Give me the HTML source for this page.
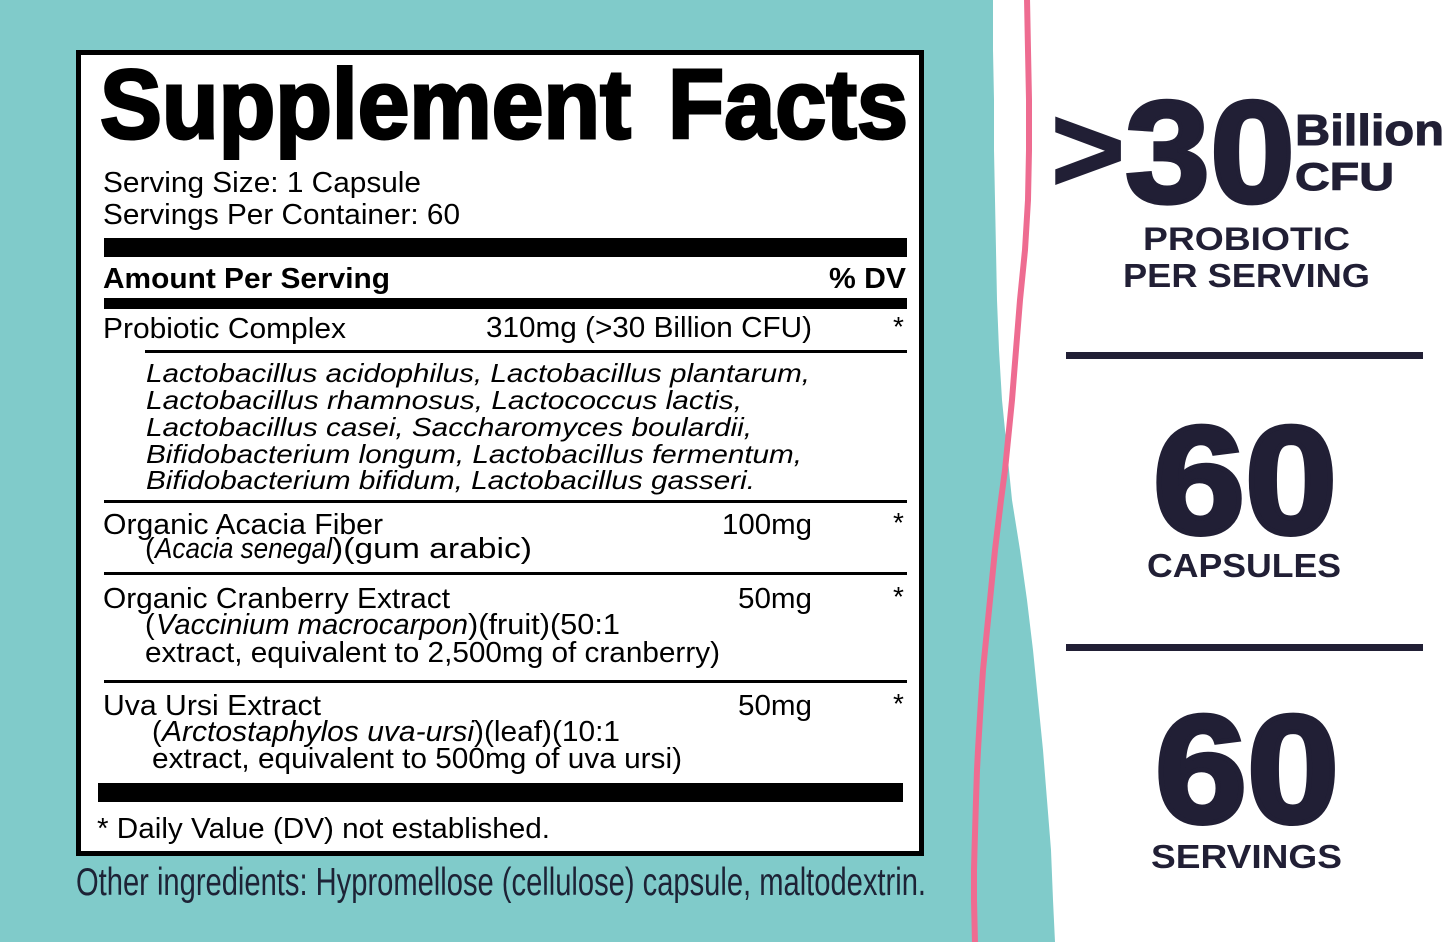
<!DOCTYPE html>
<html><head><meta charset="utf-8"><style>
html,body{margin:0;padding:0;background:#80cbca;}
svg{display:block;}
text{font-family:"Liberation Sans",Arial,sans-serif;}
</style></head><body>
<svg width="1445" height="942" viewBox="0 0 1445 942" xmlns="http://www.w3.org/2000/svg">
<rect x="0" y="0" width="1445" height="942" fill="#80cbca"/>
<polygon fill="#ffffff" points="993,0 993,50 994,100 994,150 995,200 996,250 997,300 999,350 1002,400 1007,450 1012,500 1020,550 1027,600 1033,650 1038,700 1043,750 1047,800 1051,850 1053,900 1055,942 1445,942 1445,0"/>
<polyline fill="none" stroke="#ee6c91" stroke-width="6" stroke-linejoin="round" points="1027,-2 1028,50 1029,100 1029,150 1028,200 1025,250 1020,300 1016,350 1012,400 1007,450 1005,470 1001,500 995,550 993,570 990,600 985,650 983,670 981,700 978,750 977,770 976,800 974.5,850 974,870 974,900 975,944"/>

<rect x="78.5" y="52.5" width="843" height="801" fill="#ffffff" stroke="#000" stroke-width="5"/>

<g fill="#000">
<text x="100" y="138" font-size="98" font-weight="bold" stroke="#000" stroke-width="3" textLength="531" lengthAdjust="spacingAndGlyphs">Supplement</text>
<text x="668" y="138" font-size="98" font-weight="bold" stroke="#000" stroke-width="3" textLength="240" lengthAdjust="spacingAndGlyphs">Facts</text>

<text x="103" y="192" font-size="29" textLength="318" lengthAdjust="spacingAndGlyphs">Serving Size: 1 Capsule</text>
<text x="103" y="224" font-size="29" textLength="357" lengthAdjust="spacingAndGlyphs">Servings Per Container: 60</text>

<rect x="104" y="238" width="803" height="19"/>
<text x="103" y="288" font-size="29" font-weight="bold" textLength="287" lengthAdjust="spacingAndGlyphs">Amount Per Serving</text>
<text x="829" y="288" font-size="29" font-weight="bold" textLength="77" lengthAdjust="spacingAndGlyphs">% DV</text>
<rect x="104" y="298" width="803" height="11"/>

<text x="103" y="338" font-size="29" textLength="243" lengthAdjust="spacingAndGlyphs">Probiotic Complex</text>
<text x="486" y="337" font-size="29" textLength="326" lengthAdjust="spacingAndGlyphs">310mg (&gt;30 Billion CFU)</text>
<text x="893" y="336" font-size="28">*</text>
<rect x="145" y="350" width="762" height="3"/>

<g font-style="italic" font-size="26">
<text x="146" y="382" textLength="664" lengthAdjust="spacingAndGlyphs">Lactobacillus acidophilus, Lactobacillus plantarum,</text>
<text x="146" y="409" textLength="596" lengthAdjust="spacingAndGlyphs">Lactobacillus rhamnosus, Lactococcus lactis,</text>
<text x="146" y="436" textLength="606" lengthAdjust="spacingAndGlyphs">Lactobacillus casei, Saccharomyces boulardii,</text>
<text x="146" y="463" textLength="656" lengthAdjust="spacingAndGlyphs">Bifidobacterium longum, Lactobacillus fermentum,</text>
<text x="146" y="489" textLength="609" lengthAdjust="spacingAndGlyphs">Bifidobacterium bifidum, Lactobacillus gasseri.</text>
</g>
<rect x="104" y="500" width="803" height="3"/>

<text x="103" y="534" font-size="29" textLength="280" lengthAdjust="spacingAndGlyphs">Organic Acacia Fiber</text>
<text x="722" y="534" font-size="29" textLength="90" lengthAdjust="spacingAndGlyphs">100mg</text>
<text x="893" y="532" font-size="28">*</text>
<text x="145" y="558" font-size="29">(</text>
<text x="155" y="558" font-size="29" font-style="italic" textLength="177" lengthAdjust="spacingAndGlyphs">Acacia senegal</text>
<text x="332" y="558" font-size="29" textLength="200" lengthAdjust="spacingAndGlyphs">)(gum arabic)</text>
<rect x="104" y="572" width="803" height="3"/>

<text x="103" y="608" font-size="29" textLength="347" lengthAdjust="spacingAndGlyphs">Organic Cranberry Extract</text>
<text x="738" y="608" font-size="29" textLength="74" lengthAdjust="spacingAndGlyphs">50mg</text>
<text x="893" y="606" font-size="28">*</text>
<text x="145" y="634" font-size="29">(</text>
<text x="156" y="634" font-size="29" font-style="italic" textLength="312" lengthAdjust="spacingAndGlyphs">Vaccinium macrocarpon</text>
<text x="468" y="634" font-size="29" textLength="152" lengthAdjust="spacingAndGlyphs">)(fruit)(50:1</text>
<text x="145" y="662" font-size="29" textLength="575" lengthAdjust="spacingAndGlyphs">extract, equivalent to 2,500mg of cranberry)</text>
<rect x="104" y="680" width="803" height="3"/>

<text x="103" y="715" font-size="29" textLength="218" lengthAdjust="spacingAndGlyphs">Uva Ursi Extract</text>
<text x="738" y="715" font-size="29" textLength="74" lengthAdjust="spacingAndGlyphs">50mg</text>
<text x="893" y="713" font-size="28">*</text>
<text x="152" y="741" font-size="29">(</text>
<text x="162" y="741" font-size="29" font-style="italic" textLength="312" lengthAdjust="spacingAndGlyphs">Arctostaphylos uva-ursi</text>
<text x="474" y="741" font-size="29" textLength="146" lengthAdjust="spacingAndGlyphs">)(leaf)(10:1</text>
<text x="152" y="768" font-size="29" textLength="530" lengthAdjust="spacingAndGlyphs">extract, equivalent to 500mg of uva ursi)</text>

<rect x="98" y="783" width="805" height="19"/>
<text x="97" y="838" font-size="29" textLength="453" lengthAdjust="spacingAndGlyphs">* Daily Value (DV) not established.</text>
</g>

<text x="76" y="895" font-size="39" fill="#1d2336" textLength="850" lengthAdjust="spacingAndGlyphs">Other ingredients: Hypromellose (cellulose) capsule, maltodextrin.</text>

<g fill="#211f35">
<text x="1051" y="191" font-size="122" font-weight="bold" stroke="#211f35" stroke-width="2" textLength="74" lengthAdjust="spacingAndGlyphs">&gt;</text>
<text x="1125" y="202" font-size="145" font-weight="bold" stroke="#211f35" stroke-width="4" textLength="170" lengthAdjust="spacingAndGlyphs">30</text>
<text x="1295" y="145" font-size="44" font-weight="bold" stroke="#211f35" stroke-width="1" textLength="149" lengthAdjust="spacingAndGlyphs">Billion</text>
<text x="1295" y="190" font-size="39" font-weight="bold" stroke="#211f35" stroke-width="1" textLength="99" lengthAdjust="spacingAndGlyphs">CFU</text>
<text x="1143" y="250" font-size="32" font-weight="bold" textLength="207" lengthAdjust="spacingAndGlyphs">PROBIOTIC</text>
<text x="1123" y="287" font-size="33" font-weight="bold" textLength="247" lengthAdjust="spacingAndGlyphs">PER SERVING</text>
<rect x="1066" y="352" width="357" height="7"/>
<text x="1153" y="533" font-size="153" font-weight="bold" stroke="#211f35" stroke-width="5" textLength="184" lengthAdjust="spacingAndGlyphs">60</text>
<text x="1147" y="577" font-size="33" font-weight="bold" textLength="194" lengthAdjust="spacingAndGlyphs">CAPSULES</text>
<rect x="1066" y="644" width="357" height="7"/>
<text x="1155" y="822" font-size="153" font-weight="bold" stroke="#211f35" stroke-width="5" textLength="184" lengthAdjust="spacingAndGlyphs">60</text>
<text x="1151" y="868" font-size="33" font-weight="bold" textLength="191" lengthAdjust="spacingAndGlyphs">SERVINGS</text>
</g>
</svg>
</body></html>
